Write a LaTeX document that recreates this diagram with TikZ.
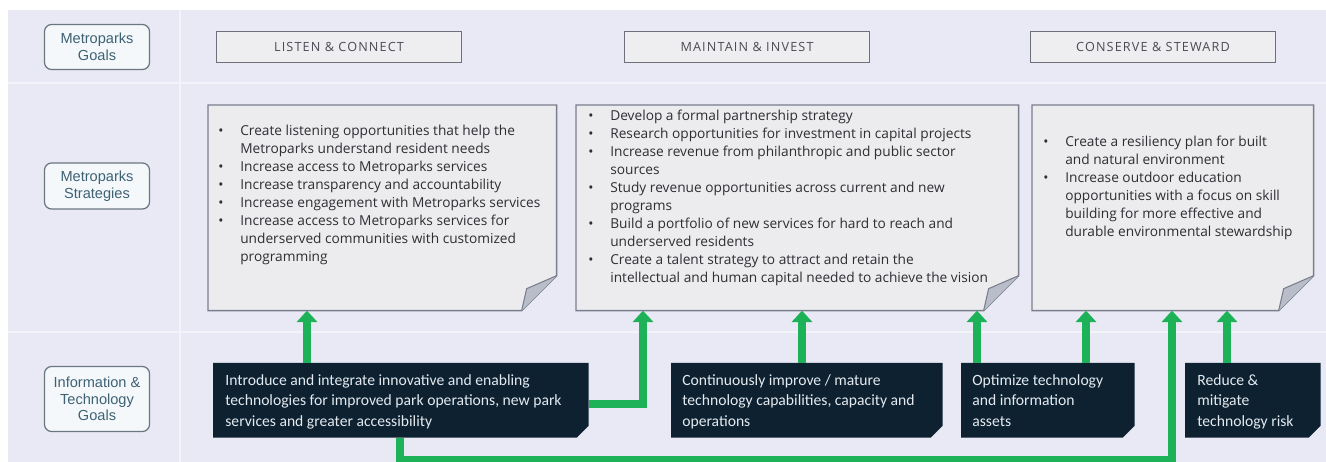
\documentclass[tikz,border=0pt]{standalone}
\usepackage{fontspec}
\setmainfont{Liberation Sans}
\newfontfamily\notefont{Open Sans}
\newfontfamily\headfont[LetterSpace=9]{Open Sans}
\newfontfamily\itfont{Carlito}
\usetikzlibrary{arrows.meta, positioning}

\definecolor{pagebg}{HTML}{E8E9F4}
\definecolor{sepline}{HTML}{F3F4FA}
\definecolor{labelfill}{HTML}{F4F8FB}
\definecolor{labelrim}{HTML}{6B7780}
\definecolor{labelink}{HTML}{3E6174}
\definecolor{goalfill}{HTML}{EEEEF1}
\definecolor{goalrim}{HTML}{6E7079}
\definecolor{goalink}{HTML}{4B4B55}
\definecolor{notefill}{HTML}{ECECEE}
\definecolor{noterim}{HTML}{7A7E8C}
\definecolor{noteflap}{HTML}{B9BDC9}
\definecolor{noteink}{HTML}{2E2E33}
\definecolor{itfill}{HTML}{0D2131}
\definecolor{itink}{HTML}{E4EAEF}
\definecolor{feedgreen}{HTML}{1DB257}

\newlength{\bulw}
\setlength{\bulw}{12.5pt}
\newcommand{\bitem}[1]{\makebox[\bulw][l]{\textbullet}#1}
\newcommand{\bcont}[1]{\hspace*{\bulw}#1}

\begin{document}
\begin{tikzpicture}[
    x=0.02cm, y=-0.02cm,
    row label/.style={draw=labelrim, fill=labelfill, rounded corners=4pt, line width=0.7pt,
        text=labelink, align=center, minimum width=2.1cm, inner sep=1pt,
        font=\fontsize{8.3}{9.4}\selectfont},
    goal head/.style={draw=goalrim, fill=goalfill, line width=0.9pt,
        minimum width=4.9cm, minimum height=0.62cm, text=goalink,
        font=\headfont\fontsize{7.2}{8}\selectfont},
    note/.style={anchor=north west, minimum height=4.1cm, inner sep=0pt},
    note rim/.style={fill=notefill, draw=noterim, line width=0.8pt},
    flap/.style={fill=noteflap, draw=noterim, line width=0.6pt, line join=round},
    note text/.style={anchor=north west, inner sep=0pt, align=left, text=noteink,
        font=\notefont\fontsize{7.8}{10.2}\selectfont},
    it goal/.style={anchor=north west, minimum height=1.48cm, inner sep=0pt},
    it text/.style={anchor=north west, inner sep=0pt, align=left, text=itink,
        font=\itfont\fontsize{8.9}{11.8}\selectfont},
    feed/.style={draw=feedgreen, line width=4.5pt},
    feed arrow/.style={feed, -{Triangle[width=11.5pt, length=6.5pt]}},
  ]
  \useasboundingbox (0,0) rectangle (1326,462);
  \fill[pagebg] (8,10) rectangle (1326,462);
  \draw[sepline, line width=1.2pt] (8,83) -- (1326,83) (8,332) -- (1326,332) (180,10) -- (180,462);

  % row labels
  \node[row label, minimum height=0.9cm] (g0) at (97,47) {Metroparks\\Goals};
  \node[row label, minimum height=0.92cm] (s0) at (97,186) {Metroparks\\Strategies};
  \node[row label, minimum height=1.3cm] (t0) at (97,399) {Information \&\\Technology\\Goals};

  % goal headers
  \node[goal head] (h1) at (339,47) {LISTEN \& CONNECT};
  \node[goal head] (h2) at (747,47) {MAINTAIN \& INVEST};
  \node[goal head] (h3) at (1153,47) {CONSERVE \& STEWARD};

  % strategy notes
  \node[note, minimum width=6.96cm] (s1) at (208,105) {};
  \node[note, minimum width=8.84cm] (s2) at (576,105) {};
  \node[note, minimum width=5.62cm] (s3) at (1032,105) {};
  \foreach \n in {s1,s2,s3} {
    \draw[note rim] (\n.north west) -- (\n.north east) -- ([shift={(0,-35)}]\n.south east)
      -- ([shift={(-35,0)}]\n.south east) -- (\n.south west) -- cycle;
    \draw[flap] ([shift={(0,-35)}]\n.south east) -- ([shift={(-30,-22)}]\n.south east)
      -- ([shift={(-35,0)}]\n.south east);
  }
  \node[note text] (s1txt) at ([shift={(10,20)}]s1.north west) {%
    \bitem{Create listening opportunities that help the}\\
    \bcont{Metroparks understand resident needs}\\
    \bitem{Increase access to Metroparks services}\\
    \bitem{Increase transparency and accountability}\\
    \bitem{Increase engagement with Metroparks services}\\
    \bitem{Increase access to Metroparks services for}\\
    \bcont{underserved communities with customized}\\
    \bcont{programming}};
  \node[note text] (s2txt) at ([shift={(12,5)}]s2.north west) {%
    \bitem{Develop a formal partnership strategy}\\
    \bitem{Research opportunities for investment in capital projects}\\
    \bitem{Increase revenue from philanthropic and public sector}\\
    \bcont{sources}\\
    \bitem{Study revenue opportunities across current and new}\\
    \bcont{programs}\\
    \bitem{Build a portfolio of new services for hard to reach and}\\
    \bcont{underserved residents}\\
    \bitem{Create a talent strategy to attract and retain the}\\
    \bcont{intellectual and human capital needed to achieve the vision}};
  \node[note text] (s3txt) at ([shift={(11,31)}]s3.north west) {%
    \bitem{Create a resiliency plan for built}\\
    \bcont{and natural environment}\\
    \bitem{Increase outdoor education}\\
    \bcont{opportunities with a focus on skill}\\
    \bcont{building for more effective and}\\
    \bcont{durable environmental stewardship}};

  % information & technology goals
  \node[it goal, minimum width=7.5cm] (it1) at (213,363) {};
  \node[it goal, minimum width=5.42cm] (it2) at (671,363) {};
  \node[it goal, minimum width=3.46cm] (it3) at (961,363) {};
  \node[it goal, minimum width=2.7cm] (it4) at (1185,363) {};
  \foreach \n in {it1,it2,it3,it4}
    \fill[itfill] (\n.north west) -- (\n.north east) -- ([shift={(0,-12)}]\n.south east)
      -- ([shift={(-12,0)}]\n.south east) -- (\n.south west) -- cycle;
  \node[it text] (it1txt) at ([shift={(12,11)}]it1.north west)
    {Introduce and integrate innovative and enabling\\technologies for improved park operations, new park\\services and greater accessibility};
  \node[it text] (it2txt) at ([shift={(11,11)}]it2.north west)
    {Continuously improve / mature\\technology capabilities, capacity and\\operations};
  \node[it text] (it3txt) at ([shift={(11,11)}]it3.north west)
    {Optimize technology\\and information\\assets};
  \node[it text] (it4txt) at ([shift={(12,11)}]it4.north west)
    {Reduce \&\\mitigate\\technology risk};

  % green links
  \coordinate (turn) at (643,402);
  \coordinate (drop) at (400,460);
  \coordinate (rise) at (1172,460);
  \foreach \src/\dst/\x in {it1/s1/307, it2/s2/802, it3/s2/977, it3/s3/1086, it4/s3/1227}
    \draw[feed arrow] (\src.north -| \x,0) -- (\dst.south -| \x,0);
  \draw[feed arrow] ([yshift=-2pt]it1.east) -| (s2.south -| turn);
  \draw[feed arrow] (it1.south -| drop) -- (drop) -- (rise) -- (s3.south -| rise);
\end{tikzpicture}
\end{document}
